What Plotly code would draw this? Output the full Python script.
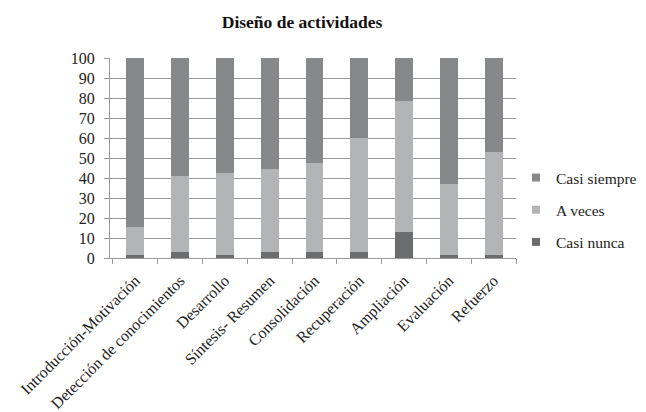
import plotly.graph_objects as go

categories = ["Introducción-Motivación", "Detección de conocimientos", "Desarrollo",
              "Síntesis- Resumen", "Consolidación", "Recuperación", "Ampliación",
              "Evaluación", "Refuerzo"]
casi_nunca = [1.3, 3.0, 1.5, 3.0, 3.0, 3.0, 12.9, 1.5, 1.5]
a_veces = [14.1, 37.9, 41.2, 41.4, 44.6, 56.8, 65.8, 35.7, 51.3]
casi_siempre = [84.6, 59.1, 57.3, 55.6, 52.4, 40.2, 21.3, 62.8, 47.2]
y_ticks = [0, 10, 20, 30, 40, 50, 60, 70, 80, 90, 100]

series = [("Casi nunca", casi_nunca, "#6b6c6e", 3),
          ("A veces", a_veces, "#b3b4b6", 2),
          ("Casi siempre", casi_siempre, "#87888a", 1)]

fig = go.Figure()
for name, vals, col, rank in series:
    fig.add_trace(go.Bar(x=categories, y=vals, name=name, marker_color=col,
                         marker_line_width=0, showlegend=False))
for name, vals, col, rank in series:
    fig.add_trace(go.Scatter(x=[categories[0]], y=[None], name=name, mode="markers",
                             marker=dict(symbol="square", size=8, color=col),
                             legendgroup=name, legendrank=rank, hoverinfo="skip"))

font = "Liberation Serif, Times New Roman, serif"
fig.update_layout(
    width=646, height=412,
    barmode="stack", bargap=0.6,
    plot_bgcolor="white", paper_bgcolor="white",
    margin=dict(l=110, r=130, t=58, b=154, autoexpand=False),
    font=dict(family=font, size=15, color="#222222"),
    title=dict(text="<b>Diseño de actividades</b>", x=302/646, xanchor="center",
               y=1-22/412, yanchor="middle", font=dict(size=17.5, family=font, color="#111111")),
    legend=dict(x=1.0, xanchor="left", y=0.24, yanchor="middle",
                traceorder="grouped", tracegroupgap=9,
                font=dict(size=15.5, family=font, color="#222222"), itemwidth=30,
                bgcolor="rgba(0,0,0,0)"),
    showlegend=True,
)
fig.update_yaxes(range=[0, 100], tickvals=y_ticks, showgrid=True, gridcolor="#9a9a9a",
                 gridwidth=1, showline=True, linecolor="#9a9a9a", linewidth=1,
                 ticks="outside", ticklen=5, tickcolor="#9a9a9a", ticklabelstandoff=6,
                 tickfont=dict(size=16, family=font, color="#222222"),
                 zeroline=False, fixedrange=True, automargin=False)
fig.update_xaxes(tickangle=-45, showline=True, linecolor="#9a9a9a", linewidth=1,
                 ticks="outside", tickson="boundaries", ticklen=5, tickcolor="#9a9a9a",
                 ticklabelstandoff=6,
                 tickfont=dict(size=16, family=font, color="#222222"),
                 fixedrange=True, automargin=False)

fig.write_html("out.html", post_script="document.body.style.margin='0';",
               config={"displayModeBar": False})
